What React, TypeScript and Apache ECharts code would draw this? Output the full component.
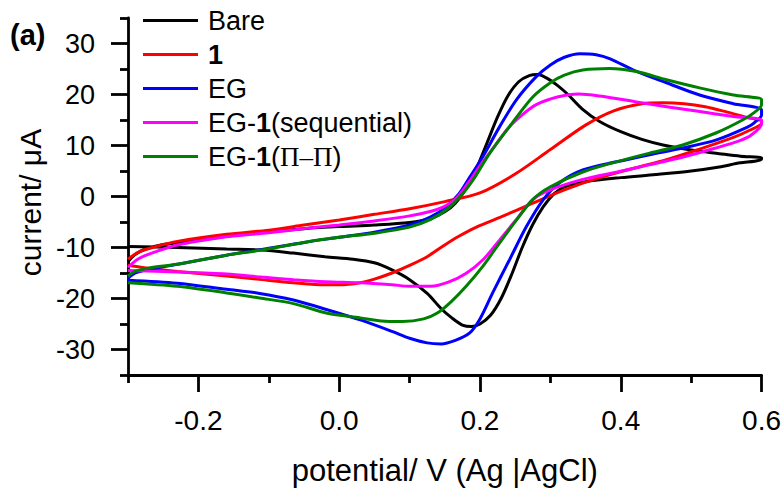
import React, { useEffect, useRef } from "react";
import * as echarts from "echarts";

// ---- data (potential V, current µA) ----
const bareForward: number[][] = [
  [-0.3, -12.8], [-0.29, -11.4], [-0.275, -10.3], [-0.25, -9.4], [-0.2, -8.6], [-0.15, -7.6],
  [-0.1, -6.9], [-0.05, -6.3], [0.0, -5.9], [0.05, -5.6], [0.1, -5.1], [0.13, -4.3], [0.15, -3.0],
  [0.165, -1.3], [0.18, 1.5], [0.195, 5.5], [0.21, 10.5], [0.225, 15.6], [0.24, 19.8], [0.255, 22.5],
  [0.27, 23.7], [0.282, 23.9], [0.295, 23.2], [0.31, 21.8], [0.325, 20.0], [0.345, 17.2], [0.37, 14.7],
  [0.4, 12.7], [0.43, 11.2], [0.46, 10.1], [0.5, 9.1], [0.54, 8.4], [0.57, 7.9], [0.6, 7.6],
];
const bareReverse: number[][] = [
  [0.6, 7.3], [0.59, 6.9], [0.57, 6.6], [0.54, 5.8], [0.5, 5.0], [0.45, 4.3], [0.4, 3.7], [0.35, 2.9],
  [0.32, 1.9], [0.305, 0.5], [0.29, -2.0], [0.275, -5.5], [0.26, -10.0], [0.245, -15.3], [0.23, -20.0],
  [0.215, -23.3], [0.2, -25.0], [0.188, -25.5], [0.175, -25.2], [0.16, -23.8], [0.145, -22.0],
  [0.125, -19.0], [0.1, -16.3], [0.075, -14.4], [0.05, -13.0], [0.02, -12.3], [-0.02, -11.8],
  [-0.065, -11.1], [-0.11, -10.5], [-0.16, -10.3], [-0.23, -10.0], [-0.3, -9.8],
];
const oneForward: number[][] = [
  [-0.3, -12.3], [-0.285, -10.9], [-0.26, -9.8], [-0.23, -8.8], [-0.16, -7.4], [-0.1, -6.6],
  [-0.05, -5.6], [0.0, -4.6], [0.05, -3.5], [0.1, -2.4], [0.15, -1.0], [0.2, 0.7], [0.25, 4.4],
  [0.3, 9.2], [0.35, 14.0], [0.39, 16.8], [0.43, 18.2], [0.46, 18.4], [0.49, 18.2], [0.52, 17.6],
  [0.55, 16.6], [0.58, 15.5], [0.6, 14.8],
];
const oneReverse: number[][] = [
  [0.6, 14.4], [0.58, 12.8], [0.56, 11.6], [0.51, 9.2], [0.465, 7.2], [0.42, 5.6], [0.37, 3.7],
  [0.32, 1.3], [0.275, -1.3], [0.23, -4.0], [0.195, -6.0], [0.17, -7.8], [0.15, -9.5], [0.125, -11.8],
  [0.1, -13.5], [0.075, -15.0], [0.05, -16.2], [0.03, -16.9], [0.0, -17.3], [-0.02, -17.3],
  [-0.065, -16.9], [-0.11, -16.3], [-0.16, -15.6], [-0.23, -14.7], [-0.28, -13.9], [-0.3, -13.5],
];
const egForward: number[][] = [
  [-0.3, -16.0], [-0.29, -15.0], [-0.27, -14.3], [-0.23, -13.3], [-0.16, -11.5], [-0.11, -10.4],
  [-0.05, -9.0], [0.0, -8.0], [0.05, -7.0], [0.1, -5.6], [0.13, -4.0], [0.15, -2.3], [0.17, 0.5],
  [0.186, 3.9], [0.204, 7.8], [0.228, 13.7], [0.252, 19.0], [0.28, 23.5], [0.3, 25.8], [0.32, 27.3],
  [0.342, 28.0], [0.365, 27.8], [0.385, 27.0], [0.418, 24.8], [0.465, 22.3], [0.512, 19.9],
  [0.56, 18.2], [0.6, 17.0],
];
const egReverse: number[][] = [
  [0.6, 16.0], [0.59, 14.5], [0.58, 13.6], [0.536, 11.1], [0.488, 9.5], [0.441, 8.2], [0.394, 6.8],
  [0.346, 5.2], [0.313, 2.7], [0.29, -0.6], [0.266, -5.9], [0.242, -12.4], [0.218, -18.9], [0.2, -24.0],
  [0.185, -26.8], [0.165, -28.2], [0.145, -28.9], [0.125, -28.7], [0.1, -27.8], [0.076, -26.5],
  [0.03, -24.2], [-0.017, -22.2], [-0.065, -20.3], [-0.113, -19.0], [-0.16, -18.2], [-0.23, -17.0],
  [-0.3, -16.4],
];
const seqForward: number[][] = [
  [-0.3, -13.9], [-0.285, -12.2], [-0.26, -10.8], [-0.23, -9.5], [-0.16, -7.9], [-0.1, -7.1],
  [-0.05, -6.3], [0.0, -5.6], [0.05, -4.8], [0.1, -3.8], [0.14, -2.5], [0.165, -0.5], [0.185, 3.0],
  [0.2, 6.0], [0.215, 8.8], [0.24, 13.4], [0.26, 16.0], [0.28, 18.0], [0.31, 19.5], [0.34, 20.1],
  [0.37, 19.7], [0.42, 18.6], [0.47, 17.5], [0.51, 16.7], [0.56, 15.7], [0.6, 15.0],
];
const seqReverse: number[][] = [
  [0.6, 14.2], [0.585, 12.0], [0.57, 11.0], [0.535, 9.5], [0.49, 7.8], [0.44, 6.2], [0.395, 4.8],
  [0.345, 3.3], [0.3, 1.3], [0.275, -0.6], [0.25, -4.8], [0.228, -8.5], [0.205, -12.3], [0.18, -15.1],
  [0.155, -16.8], [0.13, -17.6], [0.1, -17.6], [0.075, -17.3], [0.03, -16.9], [-0.02, -16.7],
  [-0.065, -16.3], [-0.11, -15.8], [-0.16, -15.2], [-0.23, -14.8], [-0.3, -14.5],
];
const piForward: number[][] = [
  [-0.3, -15.6], [-0.29, -14.7], [-0.27, -14.0], [-0.23, -13.3], [-0.16, -11.5], [-0.11, -10.5],
  [-0.05, -9.0], [0.0, -8.0], [0.05, -7.2], [0.1, -6.0], [0.13, -4.5], [0.155, -2.3], [0.175, 0.5],
  [0.19, 3.2], [0.214, 8.5], [0.242, 13.7], [0.275, 19.5], [0.3, 22.3], [0.32, 23.8], [0.346, 24.8],
  [0.384, 25.1], [0.422, 24.5], [0.465, 22.9], [0.512, 21.3], [0.56, 19.9], [0.6, 19.0],
];
const piReverse: number[][] = [
  [0.6, 18.0], [0.59, 16.5], [0.573, 15.0], [0.536, 12.5], [0.488, 10.1], [0.441, 8.5], [0.394, 6.8],
  [0.346, 4.8], [0.3, 1.9], [0.275, -0.6], [0.252, -4.6], [0.228, -9.1], [0.204, -13.7], [0.181, -17.5],
  [0.16, -20.5], [0.14, -22.8], [0.12, -24.0], [0.09, -24.5], [0.06, -24.4], [0.03, -23.8],
  [-0.017, -22.9], [-0.065, -21.0], [-0.113, -19.9], [-0.16, -18.9], [-0.23, -17.6], [-0.3, -16.9],
];

const seriesNames = ["Bare", "1", "EG", "EG-1(sequential)", "EG-1(Π–Π)"];
const seriesColors = ["#000000", "#ff0000", "#0000ff", "#ff00ff", "#008000"];
const seriesData = [
  bareForward.concat(bareReverse),
  oneForward.concat(oneReverse),
  egForward.concat(egReverse),
  seqForward.concat(seqReverse),
  piForward.concat(piReverse),
];
const legendLabels: Record<string, string> = {
  "Bare": "Bare",
  "1": "{b|1}",
  "EG": "EG",
  "EG-1(sequential)": "EG-{b|1}(sequential)",
  "EG-1(Π–Π)": "EG-{b|1}({s|Π–Π})",
};

const xMajor = [-0.2, 0.0, 0.2, 0.4, 0.6];
const xMinor = [-0.3, -0.1, 0.1, 0.3, 0.5];
const yMajor = [-30, -20, -10, 0, 10, 20, 30];
const yMinor = [-35, -25, -15, -5, 5, 15, 25, 35];

const FONT = "'Liberation Sans', Arial, sans-serif";
const SERIF = "'Liberation Serif', 'Times New Roman', serif";

export default function App() {
  const ref = useRef<HTMLDivElement>(null);
  useEffect(() => {
    if (!ref.current) return;
    const chart = echarts.init(ref.current, undefined, { renderer: "svg" });
    const axisLineStyle = { color: "#000", width: 2.8 };
    chart.setOption({
      animation: false,
      backgroundColor: "#fff",
      textStyle: { fontFamily: FONT, color: "#000" },
      title: {
        text: "(a)",
        left: 5,
        top: 15,
        textStyle: { fontSize: 29, fontWeight: "bold", fontFamily: FONT, color: "#000" },
      },
      legend: {
        orient: "vertical",
        left: 138,
        top: 2,
        icon: "rect",
        itemWidth: 55,
        itemHeight: 3,
        itemGap: 7,
        data: seriesNames,
        formatter: (name: string) => legendLabels[name],
        textStyle: {
          fontSize: 27,
          fontFamily: FONT,
          color: "#000",
          padding: [0, 0, 0, 5],
          rich: {
            b: { fontSize: 27, fontWeight: "bold", fontFamily: FONT, color: "#000" },
            s: { fontSize: 27, fontFamily: SERIF, color: "#000" },
          },
        },
      },
      grid: { left: 128, right: 22, top: 18, bottom: 120, containLabel: false },
      xAxis: [
        {
          type: "value",
          min: -0.3,
          max: 0.6,
          position: "bottom",
          axisLine: { onZero: false, lineStyle: axisLineStyle },
          axisTick: { customValues: xMajor, length: 17, lineStyle: axisLineStyle },
          axisLabel: {
            customValues: xMajor,
            formatter: (v: number) => v.toFixed(1),
            fontSize: 28,
            margin: 31,
            color: "#000",
            fontFamily: FONT,
          },
          splitLine: { show: false },
          name: "potential/ V (Ag |AgCl)",
          nameLocation: "middle",
          nameGap: 80,
          nameTextStyle: { fontSize: 31, fontFamily: FONT, color: "#000" },
        },
        {
          type: "value",
          min: -0.3,
          max: 0.6,
          position: "bottom",
          axisLine: { show: false, onZero: false },
          axisTick: { customValues: xMinor, length: 8, lineStyle: axisLineStyle },
          axisLabel: { show: false },
          splitLine: { show: false },
        },
      ],
      yAxis: [
        {
          type: "value",
          min: -35,
          max: 35,
          position: "left",
          axisLine: { show: true, onZero: false, lineStyle: axisLineStyle },
          axisTick: { show: true, customValues: yMajor, length: 17, lineStyle: axisLineStyle },
          axisLabel: { customValues: yMajor, fontSize: 27, margin: 33, color: "#000", fontFamily: FONT },
          splitLine: { show: false },
          name: "current/ μA",
          nameLocation: "middle",
          nameGap: 82,
          nameTextStyle: { fontSize: 30, fontFamily: FONT, color: "#000", padding: [0, 12, 0, 0] },
        },
        {
          type: "value",
          min: -35,
          max: 35,
          position: "left",
          axisLine: { show: false, onZero: false },
          axisTick: { show: true, customValues: yMinor, length: 8, lineStyle: axisLineStyle },
          axisLabel: { show: false },
          splitLine: { show: false },
        },
      ],
      series: seriesNames.map((name, i) => ({
        name,
        type: "line",
        xAxisIndex: 0,
        yAxisIndex: 0,
        data: seriesData[i],
        showSymbol: false,
        symbol: "none",
        smooth: 0.3,
        color: seriesColors[i],
        lineStyle: { color: seriesColors[i], width: 3 },
      })),
    });
    return () => chart.dispose();
  }, []);
  return (
    <div
      ref={ref}
      style={{ position: "absolute", left: 0, top: 0, width: 784, height: 495 }}
    />
  );
}
